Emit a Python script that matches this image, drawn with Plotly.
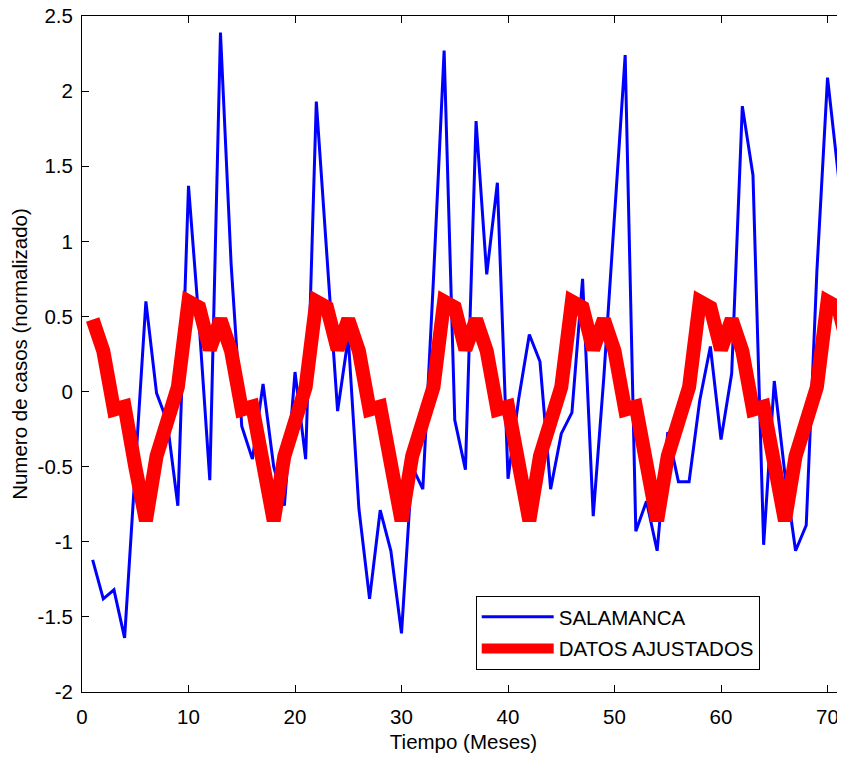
import plotly.graph_objects as go

months = list(range(1, 73))

salamanca = [
    -1.12, -1.38, -1.32, -1.64, -0.52, 0.60, -0.01, -0.20, -0.76, 1.37, 0.45, -0.59,
    2.39, 0.85, -0.23, -0.45, 0.05, -0.50, -0.76, 0.13, -0.45, 1.93, 0.90, -0.13,
    0.36, -0.78, -1.38, -0.79, -1.06, -1.61, -0.50, -0.65, 0.75, 2.27, -0.19, -0.52,
    1.80, 0.78, 1.39, -0.58, -0.05, 0.38, 0.20, -0.65, -0.28, -0.14, 0.75, -0.83,
    0.10, 1.20, 2.24, -0.93, -0.73, -1.06, -0.27, -0.60, -0.60, -0.06, 0.30, -0.32,
    0.12, 1.90, 1.44, -1.02, 0.07, -0.55, -1.06, -0.89, 0.80, 2.09, 1.45, 0.50,
]

ajustados = [
    0.48, 0.27, -0.12, -0.10, -0.50, -0.86, -0.43, -0.20, 0.03, 0.60, 0.56, 0.28,
    0.48, 0.27, -0.12, -0.10, -0.50, -0.86, -0.43, -0.20, 0.03, 0.60, 0.56, 0.28,
    0.48, 0.27, -0.12, -0.10, -0.50, -0.86, -0.43, -0.20, 0.03, 0.60, 0.56, 0.28,
    0.48, 0.27, -0.12, -0.10, -0.50, -0.86, -0.43, -0.20, 0.03, 0.60, 0.56, 0.28,
    0.48, 0.27, -0.12, -0.10, -0.50, -0.86, -0.43, -0.20, 0.03, 0.60, 0.56, 0.28,
    0.48, 0.27, -0.12, -0.10, -0.50, -0.86, -0.43, -0.20, 0.03, 0.60, 0.56, 0.28,
]

x_tickvals = [0, 10, 20, 30, 40, 50, 60, 70]
x_ticktext = ["0", "10", "20", "30", "40", "50", "60", "70"]
y_tickvals = [2.5, 2, 1.5, 1, 0.5, 0, -0.5, -1, -1.5, -2]
y_ticktext = ["2.5", "2", "1.5", "1", "0.5", "0", "-0.5", "-1", "-1.5", "-2"]

FONT = "Liberation Sans, Arial, Helvetica, sans-serif"
FS = 20.5

fig = go.Figure()
fig.add_trace(go.Scatter(
    x=months, y=salamanca, mode="lines", name="SALAMANCA", legendgroup="a",
    line=dict(color="#0000FF", width=3),
))
fig.add_trace(go.Scatter(
    x=months, y=ajustados, mode="lines", name="DATOS AJUSTADOS", legendgroup="b",
    line=dict(color="#FF0000", width=14),
))

axis_common = dict(
    showline=True, linecolor="black", linewidth=1, mirror="ticks",
    ticks="inside", ticklen=7, tickcolor="black", tickwidth=1,
    showgrid=False, zeroline=False, automargin=False,
    ticklabeloverflow="allow",
    tickfont=dict(family=FONT, size=FS, color="black"),
)

# the page body adds an 8px offset; the figure is sized to end at the window edge
fig.update_layout(
    width=837, height=750,
    margin=dict(l=74, r=0, t=8, b=66),
    paper_bgcolor="white", plot_bgcolor="white",
    font=dict(family=FONT, size=FS, color="black"),
    showlegend=True,
    legend=dict(
        x=0.516, y=0.142, xanchor="left", yanchor="top",
        bgcolor="white", bordercolor="black", borderwidth=1,
        font=dict(family=FONT, size=FS, color="black"),
        itemwidth=72, traceorder="grouped", tracegroupgap=2,
    ),
    xaxis=dict(
        range=[0, 71.64], tickvals=x_tickvals, ticktext=x_ticktext,
        ticklabelstandoff=6,
        title=dict(text="Tiempo (Meses)", font=dict(family=FONT, size=FS, color="black"), standoff=8),
        **axis_common,
    ),
    yaxis=dict(
        range=[-2, 2.5], tickvals=y_tickvals, ticktext=y_ticktext,
        ticklabelstandoff=4,
        title=dict(text="Numero de casos (normalizado)", font=dict(family=FONT, size=FS, color="black"), standoff=7),
        **axis_common,
    ),
)

fig.write_html("out.html")
